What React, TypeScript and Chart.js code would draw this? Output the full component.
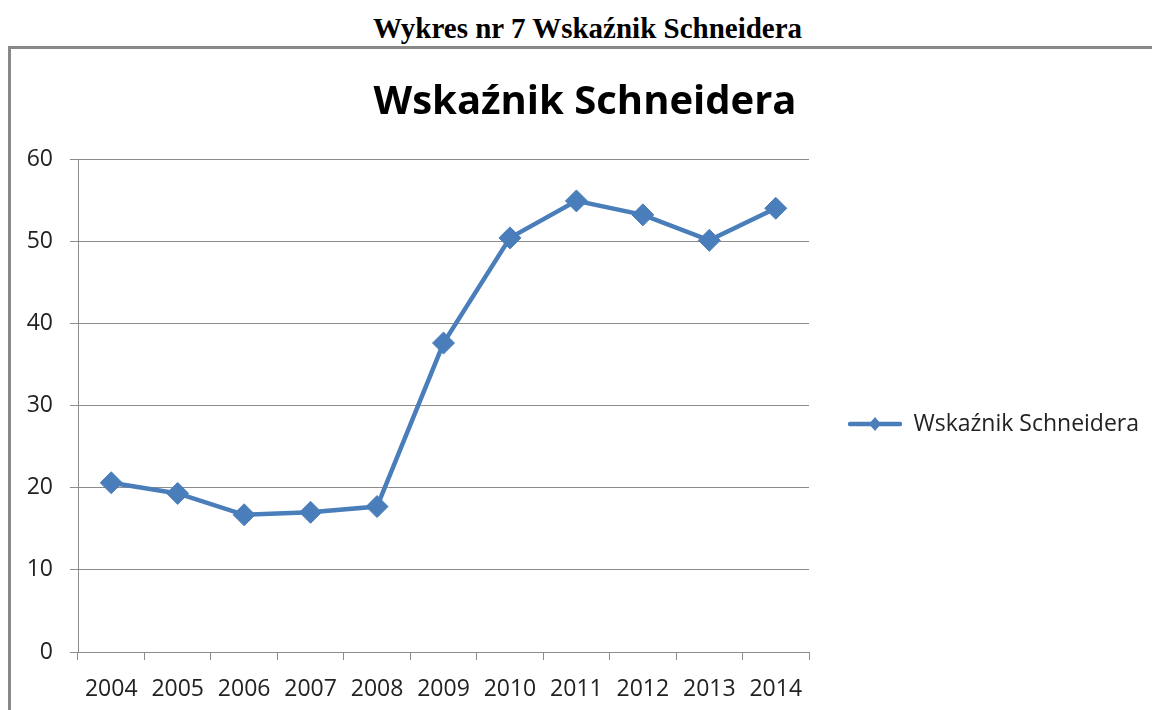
import React, { useEffect, useRef } from "react";
import { Chart, registerables } from "chart.js";

Chart.register(...registerables);

const years = ["2004", "2005", "2006", "2007", "2008", "2009", "2010", "2011", "2012", "2013", "2014"];
const schneider = [20.6, 19.3, 16.7, 17.0, 17.7, 37.6, 50.4, 54.9, 53.2, 50.1, 54.0];
const seriesName = "Wskaźnik Schneidera";
const chartTitle = "Wskaźnik Schneidera";
const pageHeading = "Wykres nr 7 Wskaźnik Schneidera";
const yMin = 0;
const yMax = 60;
const yStep = 10;

const BLUE = "#4A7EBB";
const GRID = "#8c8c8c";
const TEXT = "#222222";
const FONT = "'Open Sans', 'DejaVu Sans', sans-serif";

export default function App() {
  const canvasRef = useRef<HTMLCanvasElement | null>(null);

  useEffect(() => {
    const canvas = canvasRef.current;
    if (!canvas) return;

    // legend marker: line with diamond
    const marker = document.createElement("canvas");
    marker.width = 54;
    marker.height = 18;
    const mctx = marker.getContext("2d")!;
    mctx.strokeStyle = BLUE;
    mctx.lineWidth = 4.5;
    mctx.lineCap = "round";
    mctx.beginPath();
    mctx.moveTo(2, 9);
    mctx.lineTo(52, 9);
    mctx.stroke();
    mctx.fillStyle = BLUE;
    mctx.beginPath();
    mctx.moveTo(27, 2);
    mctx.lineTo(33, 9);
    mctx.lineTo(27, 16);
    mctx.lineTo(21, 9);
    mctx.closePath();
    mctx.fill();

    // measure legend text to size right padding so plot ends where reference does
    const mc = document.createElement("canvas").getContext("2d")!;
    mc.font = `normal 23px ${FONT}`;
    const textW = mc.measureText(seriesName).width;
    const labelPad = 39;
    const legendW = labelPad + 54 + 11.5 + textW + 10;
    const padRight = Math.max(0, 1141 - 798 - legendW);

    const chart = new Chart(canvas, {
      type: "line",
      data: {
        labels: years,
        datasets: [
          {
            label: seriesName,
            data: schneider,
            borderColor: BLUE,
            backgroundColor: BLUE,
            borderWidth: 4.5,
            pointStyle: "rectRot",
            pointRadius: 11,
            pointHoverRadius: 11,
            pointBackgroundColor: BLUE,
            pointBorderColor: BLUE,
            pointBorderWidth: 1,
            tension: 0,
          },
        ],
      },
      options: {
        responsive: false,
        animation: false,
        layout: { padding: { top: 10, left: 10, right: padRight, bottom: 0 } },
        plugins: {
          title: {
            display: true,
            text: chartTitle,
            color: "#000",
            font: { family: FONT, size: 40, weight: "bold", lineHeight: 1.2 },
            padding: { top: 20, bottom: 32 },
          },
          legend: {
            display: true,
            position: "right",
            maxWidth: 600,
            labels: {
              usePointStyle: true,
              pointStyleWidth: 54,
              padding: labelPad,
              color: TEXT,
              font: { family: FONT, size: 23 },
              generateLabels: (c: any) => {
                const items = (Chart.defaults as any).plugins.legend.labels.generateLabels(c);
                return items.map((it: any) => ({ ...it, pointStyle: marker }));
              },
            },
          },
          tooltip: { enabled: false },
        },
        scales: {
          x: {
            type: "category",
            offset: true,
            grid: {
              offset: true,
              drawOnChartArea: false,
              drawTicks: true,
              tickLength: 8,
              color: GRID,
              lineWidth: 1,
            },
            border: { display: true, color: GRID, width: 1 },
            ticks: {
              color: TEXT,
              padding: 16,
              maxRotation: 0,
              autoSkip: false,
              font: { family: FONT, size: 23 },
            },
            afterFit: (scale: any) => {
              scale.height = 137;
            },
          },
          y: {
            min: yMin,
            max: yMax,
            grid: {
              color: GRID,
              lineWidth: 1,
              tickLength: 8,
              drawTicks: true,
            },
            border: { display: true, color: GRID, width: 1 },
            ticks: {
              stepSize: yStep,
              color: TEXT,
              padding: 17,
              font: { family: FONT, size: 23 },
            },
            afterFit: (scale: any) => {
              scale.width = 57;
            },
          },
        },
      },
    } as any);

    return () => {
      chart.destroy();
    };
  }, []);

  return (
    <div
      style={{
        position: "fixed",
        left: 0,
        top: 0,
        width: 1152,
        height: 710,
        overflow: "hidden",
        background: "#fff",
      }}
    >
      <div
        style={{
          position: "absolute",
          left: 0,
          top: 12,
          width: 1175,
          textAlign: "center",
          fontFamily: "'Liberation Serif', 'Times New Roman', serif",
          fontWeight: "bold",
          fontSize: 29,
          lineHeight: "32px",
          color: "#000",
          whiteSpace: "nowrap",
        }}
      >
        {pageHeading}
      </div>
      <div
        style={{
          position: "absolute",
          left: 8,
          top: 46,
          width: 1200,
          height: 800,
          border: "3px solid #888",
          boxSizing: "border-box",
        }}
      />
      <canvas
        ref={canvasRef}
        width={1141}
        height={740}
        style={{ position: "absolute", left: 11, top: 49, width: 1141, height: 740 }}
      />
    </div>
  );
}
